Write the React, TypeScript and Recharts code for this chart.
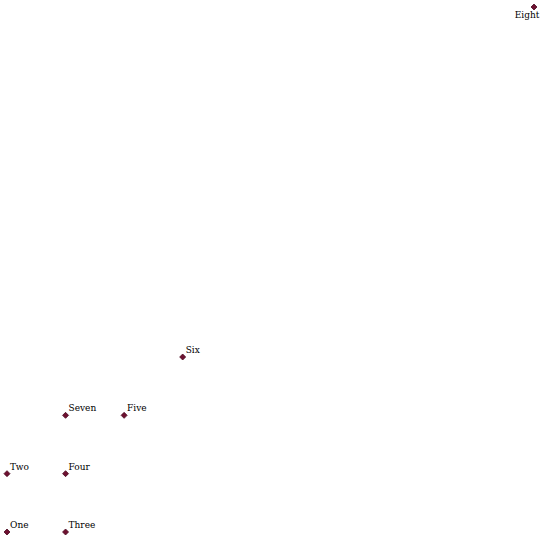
import React from "react";
import { ScatterChart, Scatter, XAxis, YAxis, LabelList } from "recharts";

const names = ["One", "Two", "Three", "Four", "Five", "Six", "Seven", "Eight"];
const xValues = [0, 0, 1, 1, 2, 3, 1, 9];
const yValues = [0, 1, 0, 1, 2, 3, 2, 9];

const data = names.map((n, i) => ({ name: n, x: xValues[i], y: yValues[i] }));

const Diamond = (props: any) => {
  const { cx, cy } = props;
  const r = 3;
  return (
    <path
      d={`M${cx},${cy - r}L${cx + r},${cy}L${cx},${cy + r}L${cx - r},${cy}Z`}
      fill="#6e1030"
      stroke="#4a0a20"
      strokeWidth={0.8}
    />
  );
};

const Label = (props: any) => {
  const { x, y, width, height, value } = props;
  const cx = x + (width || 0) / 2;
  const cy = y + (height || 0) / 2;
  if (value === "Eight") {
    return (
      <text x={cx - 7} y={cy + 11} textAnchor="middle" fontSize={9} fontFamily="DejaVu Serif" fill="#000">
        {value}
      </text>
    );
  }
  return (
    <text x={cx + 3} y={cy - 4} fontSize={9} fontFamily="DejaVu Serif" fill="#000">
      {value}
    </text>
  );
};

export default function App() {
  return (
    <div style={{ position: "absolute", left: 0, top: 0, background: "#fff" }}>
      <ScatterChart width={541} height={540} margin={{ top: 7, right: 7, bottom: 8, left: 7 }}>
        <XAxis type="number" dataKey="x" domain={[0, 9]} hide />
        <YAxis type="number" dataKey="y" domain={[0, 9]} hide />
        <Scatter data={data} shape={<Diamond />} isAnimationActive={false}>
          <LabelList dataKey="name" content={<Label />} />
        </Scatter>
      </ScatterChart>
    </div>
  );
}
